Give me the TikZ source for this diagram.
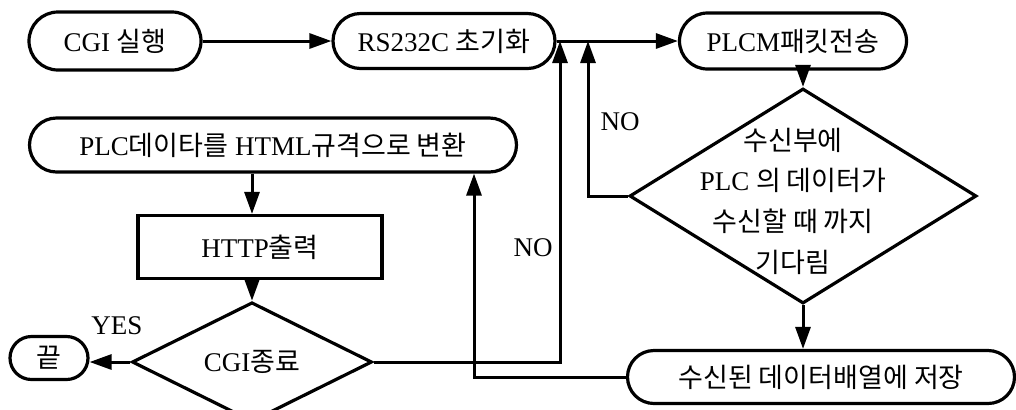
\documentclass[tikz,border=0pt]{standalone}
\usepackage{fontspec}
\setmainfont{Liberation Serif}
\newfontfamily\kr{Noto Sans CJK KR}
\usetikzlibrary{shapes.geometric,shapes.misc,arrows.meta}
\begin{document}
\begin{tikzpicture}[x=0.5pt,y=-0.5pt,
  every node/.style={font=\fontsize{13.5}{20}\selectfont, inner sep=0pt},
  stad/.style={draw, rounded rectangle, line width=1.6pt},
  box/.style={draw, rectangle, line width=1.6pt},
  dia/.style={draw, diamond, line width=1.6pt},
  arr/.style={-{Triangle[length=11pt,width=7.5pt]}, line width=1.5pt},
  ln/.style={line width=1.5pt}]
\useasboundingbox (0,0) rectangle (1016,409);

\node[stad, minimum width=86pt, minimum height=29pt] (cgi) at (115,41) {CGI {\kr 실행}};
\node[stad, minimum width=111pt, minimum height=27.5pt] (rs) at (444,41) {RS232C {\kr 초기화}};
\node[stad, minimum width=113.5pt, minimum height=28pt] (plcm) at (793,41) {PLCM{\kr 패킷전송}};
\node[stad, minimum width=243.5pt, minimum height=27pt] (html) at (273,145) {PLC{\kr 데이타를} HTML{\kr 규격으로 변환}};
\node[box, minimum width=122pt, minimum height=31.5pt] (http) at (260,247) {HTTP{\kr 출력}};
\node[dia, minimum width=120pt, minimum height=45pt] (endd) at (252,362) {CGI{\kr 종료}};
\node[stad, minimum width=39pt, minimum height=21.5pt] (fin) at (49,358) {\kr 끝};
\node[dia, minimum width=173.5pt, minimum height=107.5pt,
  label={[align=center, xshift=-5pt, yshift=-2.5pt, font=\fontsize{13.5}{20.3}\selectfont]center:{\kr 수신부에}\\PLC {\kr 의 데이터가}\\{\kr 수신할 때 까지}\\{\kr 기다림}}] (wait) at (803,196) {};
\node[stad, minimum width=193.5pt, minimum height=26.5pt] (store) at (821,377) {\kr 수신된 데이터배열에 저장};

\coordinate (j1) at (560,41);
\coordinate (j2) at (588,41);
\coordinate (c1) at (474,0);

\draw[arr] (cgi.east) -- (cgi.east -| rs.west);
\draw[arr] (rs.east) -- (rs.east -| plcm.west);
\draw[arr] (plcm.south -| wait.north) -- (wait.north);
\draw[arr] (wait.west) -| (j2);
\draw[arr] (wait.south) -- (store.north -| wait.south);
\draw[arr] (store.west) -| (c1 |- html.south);
\draw[arr] (html.south -| endd.north) -- (http.north -| endd.north);
\draw[arr] (http.south -| endd.north) -- (endd.north);
\draw[arr] (endd.east) -| (j1);
\draw[arr] (endd.west) -- (endd.west -| fin.east);

\node (yes) at (117,326) {YES};
\node (no1) at (620,122) {NO};
\node (no2) at (533,248) {NO};
\end{tikzpicture}
\end{document}
